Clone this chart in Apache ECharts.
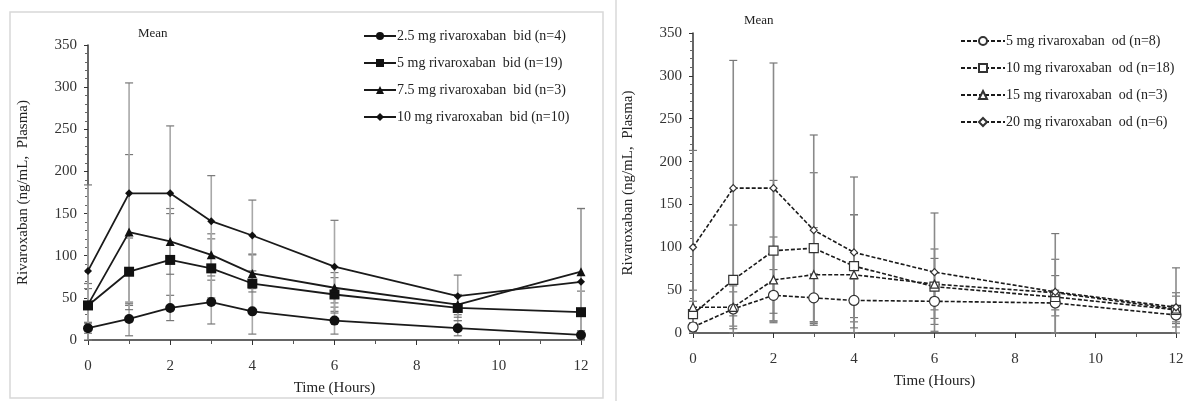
<!DOCTYPE html>
<html>
<head>
<meta charset="utf-8">
<script src="https://cdn.jsdelivr.net/npm/echarts@6/dist/echarts.min.js"></script>
<style>
html, body { margin: 0; padding: 0; background: #fff; }
#main { width: 1189px; height: 401px; }
</style>
</head>
<body>
<div id="main"></div>
<script>
// sampling times (hours)
var hours = [0, 1, 2, 3, 4, 6, 9, 12];

// left panel: twice daily
var bidNames = ['2.5 mg rivaroxaban  bid (n=4)', '5 mg rivaroxaban  bid (n=19)', '7.5 mg rivaroxaban  bid (n=3)', '10 mg rivaroxaban  bid (n=10)'];
var bid25 = [14, 25, 38, 45, 34, 23, 14, 6];
var bid5 = [41, 81, 95, 85, 67, 54, 38, 33];
var bid75 = [42, 128, 117, 101, 79, 62, 42, 81];
var bid10 = [82, 174, 174, 141, 124, 87, 52, 69];
var bid25Sd = [6, 20, 15, 26, 27, 16, 9, 5];
var bid5Sd = [20, 40, 55, 35, 35, 20, 15, 25];
var bid75Sd = [25, 92, 39, 25, 22, 18, 12, 75];
var bid10Sd = [102, 131, 80, 54, 42, 55, 25, 87];

// right panel: once daily
var odNames = ['5 mg rivaroxaban  od (n=8)', '10 mg rivaroxaban  od (n=18)', '15 mg rivaroxaban  od (n=3)', '20 mg rivaroxaban  od (n=6)'];
var od5 = [7, 28, 44, 41, 38, 37, 35, 21];
var od10 = [22, 62, 96, 99, 78, 54, 42, 27];
var od15 = [30, 30, 62, 68, 68, 57, 47, 28];
var od20 = [100, 169, 169, 120, 94, 71, 48, 30];
var od5Sd = [5, 20, 30, 28, 25, 20, 15, 10];
var od10Sd = [15, 64, 82, 88, 60, 44, 44, 20];
var od15Sd = [20, 25, 50, 55, 70, 30, 20, 15];
var od20Sd = [113, 149, 146, 111, 88, 69, 68, 46];

var xTicks = [0, 2, 4, 6, 8, 10, 12];

var serif = "'Liberation Serif', 'Times New Roman', serif";

function pairs(vals) {
  return hours.map(function (h, i) { return [h, vals[i]]; });
}
function triples(vals, sd) {
  return hours.map(function (h, i) { return [h, vals[i], sd[i]]; });
}

function errorBar(params, api) {
  var x = api.value(0), m = api.value(1), s = api.value(2);
  var lo = Math.max(0, m - s);
  var top = api.coord([x, m + s]);
  var bot = api.coord([x, lo]);
  var st = { stroke: params.seriesIndex < 8 ? '#a8a8a8' : '#8a8a8a', lineWidth: 1.6 };
  var cap = { stroke: '#777', lineWidth: 1.2 };
  return {
    type: 'group',
    children: [
      { type: 'line', shape: { x1: top[0], y1: top[1], x2: bot[0], y2: bot[1] }, style: st },
      { type: 'line', shape: { x1: top[0] - 4, y1: top[1], x2: top[0] + 4, y2: top[1] }, style: cap },
      { type: 'line', shape: { x1: bot[0] - 4, y1: bot[1], x2: bot[0] + 4, y2: bot[1] }, style: cap }
    ]
  };
}

function errSeries(vals, sd, idx) {
  return {
    type: 'custom',
    xAxisIndex: idx, yAxisIndex: idx,
    renderItem: errorBar,
    encode: { x: 0, y: [1, 2] },
    data: triples(vals, sd),
    silent: true,
    z: 1
  };
}

function lineSeries(name, vals, idx, symbol, size, open) {
  return {
    name: name,
    type: 'line',
    xAxisIndex: idx, yAxisIndex: idx,
    data: pairs(vals),
    symbol: symbol,
    symbolSize: size,
    lineStyle: { color: '#1a1a1a', width: idx ? 1.6 : 1.8, type: idx ? [4, 2] : 'solid' },
    itemStyle: open ? { color: '#fff', borderColor: '#333', borderWidth: 1.2 } : { color: '#111', borderColor: '#111', borderWidth: 0 },
    z: 3
  };
}

function xAxis(idx) {
  return {
    type: 'value', gridIndex: idx, min: 0, max: 12, interval: 2,
    name: 'Time (Hours)', nameLocation: 'middle', nameGap: 41,
    nameTextStyle: { fontFamily: serif, fontSize: 15, color: '#222' },
    axisLine: { lineStyle: { color: '#333', width: 1.5 } },
    axisTick: { length: 5, lineStyle: { color: '#333' } },
    minorTick: { show: true, splitNumber: 2, length: 4, lineStyle: { color: '#555' } },
    axisLabel: { fontFamily: serif, fontSize: 15, color: '#333', margin: 19,
      customValues: xTicks },
    splitLine: { show: false }
  };
}
function yAxis(idx) {
  return {
    type: 'value', gridIndex: idx, min: 0, max: 350, interval: 50,
    name: 'Rivaroxaban (ng/mL,  Plasma)', nameLocation: 'middle', nameGap: 57,
    nameTextStyle: { fontFamily: serif, fontSize: 15, color: '#222' },
    axisLine: { show: true, lineStyle: { color: '#333', width: 1.5 } },
    axisTick: { show: true, length: 4, lineStyle: { color: '#333' } },
    minorTick: { show: true, splitNumber: 5, length: 3, lineStyle: { color: '#666' } },
    axisLabel: { fontFamily: serif, fontSize: 15, color: '#333', margin: 11 },
    splitLine: { show: false }
  };
}

var chart = echarts.init(document.getElementById('main'));
chart.setOption({
  backgroundColor: '#fff',
  animation: false,
  graphic: [
    { type: 'rect', shape: { x: 10, y: 12, width: 593, height: 386 }, style: { fill: 'none', stroke: '#d8d8d8', lineWidth: 1.5 } },
    { type: 'line', shape: { x1: 616, y1: 0, x2: 616, y2: 401 }, style: { stroke: '#d8d8d8', lineWidth: 1.5 } }
  ],
  title: [
    { text: 'Mean', left: 133, top: 22, textStyle: { fontFamily: serif, fontSize: 13, fontWeight: 'normal', color: '#222' } },
    { text: 'Mean', left: 739, top: 9, textStyle: { fontFamily: serif, fontSize: 13, fontWeight: 'normal', color: '#222' } }
  ],
  legend: [
    { data: bidNames, orient: 'vertical', left: 358, top: 24, itemWidth: 32, itemHeight: 10, itemGap: 13,
      textStyle: { fontFamily: serif, fontSize: 14, color: '#222', padding: [0, 0, 0, -4] } },
    { data: odNames, orient: 'vertical', left: 955, top: 29, itemWidth: 44, itemHeight: 10, itemGap: 13,
      textStyle: { fontFamily: serif, fontSize: 14, color: '#222', padding: [0, 0, 0, -4] } }
  ],
  grid: [
    { left: 88, top: 45, width: 493, height: 298 },
    { left: 693, top: 33, width: 483, height: 300 }
  ],
  xAxis: [xAxis(0), xAxis(1)],
  yAxis: [yAxis(0), yAxis(1)],
  series: [
    errSeries(bid25, bid25Sd, 0),
    errSeries(bid5, bid5Sd, 0),
    errSeries(bid75, bid75Sd, 0),
    errSeries(bid10, bid10Sd, 0),
    lineSeries(bidNames[0], bid25, 0, 'circle', 10, false),
    lineSeries(bidNames[1], bid5, 0, 'rect', 10, false),
    lineSeries(bidNames[2], bid75, 0, 'triangle', 9, false),
    lineSeries(bidNames[3], bid10, 0, 'diamond', 8, false),
    errSeries(od5, od5Sd, 1),
    errSeries(od10, od10Sd, 1),
    errSeries(od15, od15Sd, 1),
    errSeries(od20, od20Sd, 1),
    lineSeries(odNames[0], od5, 1, 'circle', 10, true),
    lineSeries(odNames[1], od10, 1, 'rect', 9, true),
    lineSeries(odNames[2], od15, 1, 'triangle', 8, true),
    lineSeries(odNames[3], od20, 1, 'diamond', 7, true)
  ]
});
</script>
</body>
</html>
